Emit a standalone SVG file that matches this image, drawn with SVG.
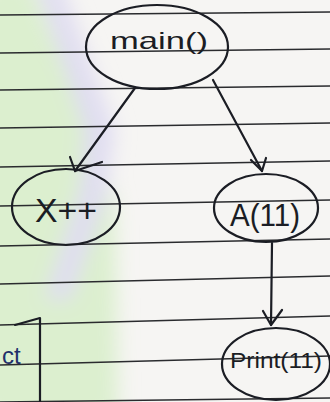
<svg xmlns="http://www.w3.org/2000/svg" width="330" height="402" viewBox="0 0 330 402">
  <style>
    .rule { stroke: #2a2b2e; stroke-width: 1.5; fill: none; }
    .ink { stroke: #1b1d24; stroke-width: 2.2; fill: none; stroke-linecap: round; stroke-linejoin: round; }
    .label { font-family: "Liberation Sans", "DejaVu Sans", sans-serif; fill: #1b1d24; text-anchor: middle; }
  </style>
  <defs>
    <filter id="soft" x="-50%" y="-50%" width="200%" height="200%">
      <feGaussianBlur stdDeviation="10"/>
    </filter>
  </defs>

  <!-- paper -->
  <rect x="0" y="0" width="330" height="402" fill="#f6f5f3"/>
  <!-- tinted margin on the left -->
  <g filter="url(#soft)">
    <polygon points="-20,-20 30,-20 85,120 115,200 118,420 -20,420" fill="#dcefcf"/>
    <polygon points="35,-20 60,-20 115,130 105,200 70,300 45,300 80,190 85,130" fill="#e0ddf1"/>
  </g>

  <!-- ruled lines -->
  <g id="rules">
    <line class="rule" x1="0" y1="15" x2="330" y2="12"/>
    <line class="rule" x1="0" y1="53" x2="330" y2="49"/>
    <line class="rule" x1="0" y1="90" x2="330" y2="86"/>
    <line class="rule" x1="0" y1="128" x2="330" y2="123"/>
    <line class="rule" x1="0" y1="167" x2="330" y2="161"/>
    <line class="rule" x1="0" y1="206" x2="330" y2="200"/>
    <line class="rule" x1="0" y1="246" x2="330" y2="239"/>
    <line class="rule" x1="0" y1="284" x2="330" y2="276"/>
    <line class="rule" x1="0" y1="325" x2="330" y2="316"/>
    <line class="rule" x1="0" y1="365" x2="330" y2="356"/>
    <line class="rule" x1="0" y1="402" x2="330" y2="398"/>
  </g>

  <!-- connectors -->
  <g id="connectors">
    <path class="ink" d="M135,88 L75,171"/>
    <path class="ink" d="M70,157 L75,171 L102,162"/>
    <path class="ink" d="M213,80 L262,171"/>
    <path class="ink" d="M251,160 L262,171 L266,158"/>
    <path class="ink" d="M272,243 L271,325"/>
    <path class="ink" d="M263,311 L271,325 L282,310"/>
  </g>

  <g id="node-main">
    <ellipse class="ink" cx="157" cy="47" rx="71" ry="42"/>
    <text class="label" x="159" y="49" font-size="24" textLength="98" lengthAdjust="spacingAndGlyphs">main()</text>
  </g>

  <g id="node-xpp">
    <ellipse class="ink" cx="66" cy="207" rx="54" ry="38"/>
    <text class="label" x="66" y="222" font-size="34" textLength="62" lengthAdjust="spacingAndGlyphs">X++</text>
  </g>

  <g id="node-a11">
    <ellipse class="ink" cx="266" cy="208" rx="52" ry="34"/>
    <text class="label" x="265" y="226" font-size="32" textLength="70" lengthAdjust="spacingAndGlyphs">A(11)</text>
  </g>

  <g id="node-print11">
    <ellipse class="ink" cx="276" cy="364" rx="54" ry="36"/>
    <text class="label" x="276" y="368" font-size="22" textLength="92" lengthAdjust="spacingAndGlyphs">Print(11)</text>
  </g>

  <!-- corner box, lower left -->
  <g id="box">
    <path class="ink" d="M15,325 L40,318 L40,402"/>
    <text x="2" y="364" font-family="Liberation Sans, sans-serif" font-size="24" fill="#22306a">ct</text>
  </g>
</svg>
